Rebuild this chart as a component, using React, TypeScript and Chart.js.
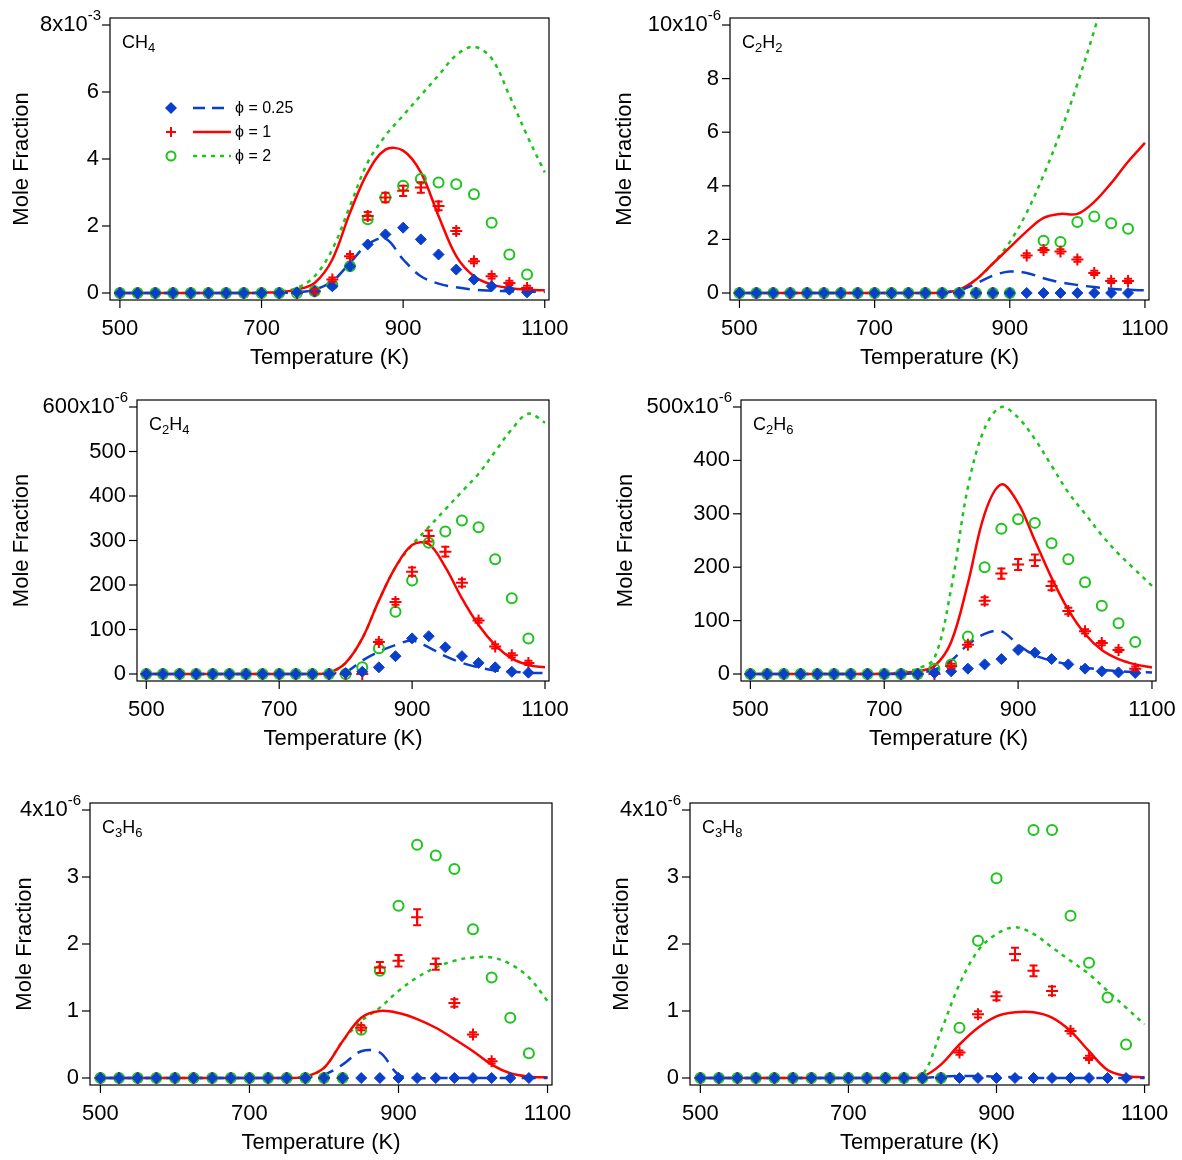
import React, { useEffect, useRef } from 'react';
import { Chart, registerables } from 'chart.js';

Chart.register(...registerables);

// experiment temperatures (K) and model temperatures (K)
const EXP_T = [500, 525, 550, 575, 600, 625, 650, 675, 700, 725, 750, 775, 800, 825, 850, 875, 900, 925, 950, 975, 1000, 1025, 1050, 1075];
const MODEL_T = [500, 525, 550, 575, 600, 625, 650, 675, 700, 725, 750, 775, 800, 825, 850, 875, 900, 925, 950, 975, 1000, 1025, 1050, 1075, 1100];
const X_TICKS = [500, 700, 900, 1100];

// CH4 (x1e-3)
const CH4_LEAN = [0, 0, 0, 0, 0, 0, 0, 0, 0, 0, 0.02, 0.05, 0.2, 0.8, 1.45, 1.75, 1.95, 1.6, 1.15, 0.7, 0.4, 0.2, 0.1, 0.02];
const CH4_STOICH = [0, 0, 0, 0, 0, 0, 0, 0, 0, 0, 0, 0.05, 0.4, 1.1, 2.3, 2.85, 3.05, 3.15, 2.6, 1.85, 0.95, 0.5, 0.3, 0.15];
const CH4_RICH = [0, 0, 0, 0, 0, 0, 0, 0, 0, 0, 0, 0.05, 0.25, 0.8, 2.2, 2.85, 3.2, 3.4, 3.3, 3.25, 2.95, 2.1, 1.15, 0.55];
const CH4_LEAN_M = [0, 0, 0, 0, 0, 0, 0, 0, 0, 0, 0.02, 0.1, 0.35, 0.9, 1.45, 1.62, 1.0, 0.5, 0.28, 0.17, 0.1, 0.07, 0.05, 0.04, 0.03];
const CH4_STOICH_M = [0, 0, 0, 0, 0, 0, 0, 0, 0.01, 0.03, 0.1, 0.3, 1.0, 2.4, 3.6, 4.28, 4.25, 3.6, 2.3, 1.1, 0.5, 0.25, 0.15, 0.1, 0.08];
const CH4_RICH_M = [0, 0, 0, 0, 0, 0, 0, 0, 0.01, 0.04, 0.15, 0.5, 1.3, 2.6, 3.9, 4.7, 5.3, 5.9, 6.5, 7.1, 7.35, 7.0, 5.9, 4.7, 3.6];

// C2H2 (x1e-6)
const C2H2_LEAN = [0, 0, 0, 0, 0, 0, 0, 0, 0, 0, 0, 0, 0, 0, 0, 0, 0, 0, 0, 0, 0, 0, 0, 0];
const C2H2_STOICH = [0, 0, 0, 0, 0, 0, 0, 0, 0, 0, 0, 0, 0, 0, 0, 0, null, 1.4, 1.6, 1.55, 1.25, 0.75, 0.45, 0.45];
const C2H2_RICH = [0, 0, 0, 0, 0, 0, 0, 0, 0, 0, 0, 0, 0, 0, 0, 0, 0, null, 1.95, 1.9, 2.65, 2.85, 2.6, 2.4];
const C2H2_LEAN_M = [0, 0, 0, 0, 0, 0, 0, 0, 0, 0, 0, 0, 0.02, 0.1, 0.35, 0.65, 0.8, 0.75, 0.55, 0.4, 0.3, 0.22, 0.16, 0.12, 0.1];
const C2H2_STOICH_M = [0, 0, 0, 0, 0, 0, 0, 0, 0, 0, 0, 0, 0.02, 0.12, 0.5, 1.1, 1.7, 2.3, 2.8, 2.95, 2.95, 3.4, 4.1, 4.9, 5.6];
const C2H2_RICH_M = [0, 0, 0, 0, 0, 0, 0, 0, 0, 0, 0, 0, 0.02, 0.12, 0.5, 1.1, 1.9, 3.0, 4.4, 6.0, 7.8, 9.8, 12, 14, 16];

// C2H4 (x1e-6)
const C2H4_LEAN = [0, 0, 0, 0, 0, 0, 0, 0, 0, 0, 0, 0, 2, 5, 15, 40, 80, 85, 60, 40, 25, 15, 5, 3];
const C2H4_STOICH = [0, 0, 0, 0, 0, 0, 0, 0, 0, 0, 0, 0, 0, 0, 72, 162, 230, 310, 275, 205, 120, 62, 42, 25];
const C2H4_RICH = [0, 0, 0, 0, 0, 0, 0, 0, 0, 0, 0, 0, 0, 15, 58, 140, 210, 295, 320, 345, 330, 258, 170, 80];
const C2H4_LEAN_M = [0, 0, 0, 0, 0, 0, 0, 0, 0, 0, 0, 1, 5, 30, 50, 65, 75, 60, 40, 25, 15, 8, 5, 3, 2];
const C2H4_STOICH_M = [0, 0, 0, 0, 0, 0, 0, 0, 0, 0, 0, 3, 25, 80, 165, 240, 290, 292, 240, 170, 110, 65, 35, 20, 15];
const C2H4_RICH_M = [0, 0, 0, 0, 0, 0, 0, 0, 0, 0, 0, 3, 25, 80, 165, 240, 290, 330, 370, 410, 450, 500, 550, 585, 565];

// C2H6 (x1e-6)
const C2H6_LEAN = [0, 0, 0, 0, 0, 0, 0, 0, 0, 0, 0, 2, 5, 10, 18, 28, 45, 40, 28, 18, 10, 5, 3, 2];
const C2H6_STOICH = [0, 0, 0, 0, 0, 0, 0, 0, 0, 0, 0, 0, 15, 55, 137, 188, 205, 213, 165, 118, 80, 58, 45, 10];
const C2H6_RICH = [0, 0, 0, 0, 0, 0, 0, 0, 0, 0, 0, 10, 18, 70, 200, 272, 290, 283, 245, 215, 172, 128, 95, 60];
const C2H6_LEAN_M = [0, 0, 0, 0, 0, 0, 0, 0, 0, 0, 2, 8, 25, 55, 75, 80, 55, 35, 25, 18, 12, 8, 5, 4, 3];
const C2H6_STOICH_M = [0, 0, 0, 0, 0, 0, 0, 0, 0, 2, 5, 15, 60, 170, 300, 355, 320, 250, 180, 120, 75, 45, 28, 18, 12];
const C2H6_RICH_M = [0, 0, 0, 0, 0, 0, 0, 0, 1, 3, 10, 30, 160, 350, 460, 500, 480, 440, 390, 340, 300, 260, 225, 195, 165];

// C3H6 (x1e-6)
const C3H6_LEAN = [0, 0, 0, 0, 0, 0, 0, 0, 0, 0, 0, 0, 0, 0, 0, 0, 0, 0, 0, 0, 0, 0, 0, 0];
const C3H6_STOICH = [0, 0, 0, 0, 0, 0, 0, 0, 0, 0, 0, 0, 0, 0, 0.75, 1.65, 1.75, 2.4, 1.7, 1.12, 0.65, 0.25, null, null];
const C3H6_RICH = [0, 0, 0, 0, 0, 0, 0, 0, 0, 0, 0, 0, 0, 0, 0.72, 1.6, 2.57, 3.48, 3.32, 3.12, 2.22, 1.5, 0.9, 0.37];
const C3H6_LEAN_M = [0, 0, 0, 0, 0, 0, 0, 0, 0, 0, 0, 0.01, 0.05, 0.2, 0.4, 0.38, 0.05, 0, 0, 0, 0, 0, 0, 0, 0];
const C3H6_STOICH_M = [0, 0, 0, 0, 0, 0, 0, 0, 0, 0, 0, 0.02, 0.15, 0.55, 0.9, 1.0, 0.97, 0.88, 0.75, 0.58, 0.4, 0.2, 0.07, 0.02, 0.01];
const C3H6_RICH_M = [0, 0, 0, 0, 0, 0, 0, 0, 0, 0, 0, 0.02, 0.15, 0.55, 0.85, 1.05, 1.3, 1.5, 1.65, 1.75, 1.8, 1.8, 1.7, 1.5, 1.15];

// C3H8 (x1e-6)
const C3H8_LEAN = [0, 0, 0, 0, 0, 0, 0, 0, 0, 0, 0, 0, 0, 0, 0, 0, 0, 0, 0, 0, 0, 0, 0, 0];
const C3H8_STOICH = [0, 0, 0, 0, 0, 0, 0, 0, 0, 0, 0, 0, 0, 0, 0.38, 0.95, 1.22, 1.85, 1.6, 1.3, 0.7, 0.3, null, null];
const C3H8_RICH = [0, 0, 0, 0, 0, 0, 0, 0, 0, 0, 0, 0, 0, 0, 0.75, 2.05, 2.98, null, 3.7, 3.7, 2.42, 1.72, 1.2, 0.5];
const C3H8_LEAN_M = [0, 0, 0, 0, 0, 0, 0, 0, 0, 0, 0, 0, 0, 0.02, 0.03, 0.03, 0.02, 0.01, 0, 0, 0, 0, 0, 0, 0];
const C3H8_STOICH_M = [0, 0, 0, 0, 0, 0, 0, 0, 0, 0, 0, 0, 0.02, 0.2, 0.5, 0.75, 0.92, 0.98, 0.98, 0.9, 0.7, 0.4, 0.12, 0.03, 0.01];
const C3H8_RICH_M = [0, 0, 0, 0, 0, 0, 0, 0, 0, 0, 0, 0, 0.05, 0.7, 1.4, 1.9, 2.15, 2.25, 2.15, 1.95, 1.75, 1.55, 1.3, 1.05, 0.8];

const BLUE = '#0a3fcc';
const RED = '#ff0000';
const GREEN = '#1cc41c';
const FONT = '"Liberation Sans", Arial, sans-serif';

const PANELS = [
  { box: [110, 18, 549, 300], yMax: 8, step: 2, exp: '-3', species: [['CH', 0], ['4', 1]], yTitleX: 22, legend: true, err: 0.05,
    data: [CH4_LEAN, CH4_STOICH, CH4_RICH, CH4_LEAN_M, CH4_STOICH_M, CH4_RICH_M] },
  { box: [730, 18, 1149, 300], yMax: 10, step: 2, exp: '-6', species: [['C', 0], ['2', 1], ['H', 0], ['2', 1]], yTitleX: 625, err: 0.05,
    data: [C2H2_LEAN, C2H2_STOICH, C2H2_RICH, C2H2_LEAN_M, C2H2_STOICH_M, C2H2_RICH_M] },
  { box: [137, 400, 549, 681], yMax: 600, step: 100, exp: '-6', species: [['C', 0], ['2', 1], ['H', 0], ['4', 1]], yTitleX: 22, err: 0.04,
    data: [C2H4_LEAN, C2H4_STOICH, C2H4_RICH, C2H4_LEAN_M, C2H4_STOICH_M, C2H4_RICH_M] },
  { box: [741, 400, 1156, 681], yMax: 500, step: 100, exp: '-6', species: [['C', 0], ['2', 1], ['H', 0], ['6', 1]], yTitleX: 626, err: 0.05,
    data: [C2H6_LEAN, C2H6_STOICH, C2H6_RICH, C2H6_LEAN_M, C2H6_STOICH_M, C2H6_RICH_M] },
  { box: [90, 803, 552, 1085], yMax: 4, step: 1, exp: '-6', species: [['C', 0], ['3', 1], ['H', 0], ['6', 1]], yTitleX: 25, err: 0.05,
    data: [C3H6_LEAN, C3H6_STOICH, C3H6_RICH, C3H6_LEAN_M, C3H6_STOICH_M, C3H6_RICH_M] },
  { box: [690, 803, 1149, 1085], yMax: 4, step: 1, exp: '-6', species: [['C', 0], ['3', 1], ['H', 0], ['8', 1]], yTitleX: 622, err: 0.05,
    data: [C3H8_LEAN, C3H8_STOICH, C3H8_RICH, C3H8_LEAN_M, C3H8_STOICH_M, C3H8_RICH_M] },
];

const PAD_L = 135;
const PAD_T = 20;
const PAD_R = 30;
const PAD_B = 80;

const toPoints = (xs: number[], ys: (number | null)[]) => xs.map((x, i) => ({ x, y: ys[i] }));

const panelPlugin = {
  id: 'panel',
  afterDatasetsDraw(chart: any) {
    const cfg = chart.options.plugins.panel;
    const { ctx, scales: { x, y } } = chart;
    // error bars on stoichiometric points
    ctx.save();
    ctx.strokeStyle = RED;
    ctx.lineWidth = 2;
    cfg.data[1].forEach((v: number | null, i: number) => {
      if (v == null || v === 0) return;
      const e = Math.max(v * cfg.err, cfg.yMax * 0.008);
      const px = x.getPixelForValue(EXP_T[i]);
      const y1 = y.getPixelForValue(v - e);
      const y2 = y.getPixelForValue(v + e);
      ctx.beginPath();
      ctx.moveTo(px, y1); ctx.lineTo(px, y2);
      ctx.moveTo(px - 4, y1); ctx.lineTo(px + 4, y1);
      ctx.moveTo(px - 4, y2); ctx.lineTo(px + 4, y2);
      ctx.stroke();
    });
    ctx.restore();
  },
  afterDraw(chart: any) {
    const cfg = chart.options.plugins.panel;
    const { ctx, chartArea: a, scales: { x, y } } = chart;
    ctx.save();
    ctx.strokeStyle = '#000';
    ctx.fillStyle = '#000';
    ctx.lineWidth = 1.2;
    ctx.strokeRect(a.left, a.top, a.right - a.left, a.bottom - a.top);

    ctx.font = `22px ${FONT}`;
    ctx.textAlign = 'center';
    ctx.textBaseline = 'middle';
    X_TICKS.forEach(t => {
      const px = x.getPixelForValue(t);
      ctx.beginPath(); ctx.moveTo(px, a.bottom); ctx.lineTo(px, a.bottom + 8); ctx.stroke();
      ctx.fillText(String(t), px, a.bottom + 29);
    });
    ctx.fillText('Temperature (K)', (a.left + a.right) / 2, a.bottom + 58);

    for (let v = 0; v <= cfg.yMax; v += cfg.step) {
      const py = y.getPixelForValue(v);
      ctx.beginPath(); ctx.moveTo(a.left - 8, py); ctx.lineTo(a.left, py); ctx.stroke();
      ctx.textAlign = 'right';
      if (v === cfg.yMax) {
        ctx.font = `15px ${FONT}`;
        const sw = ctx.measureText(cfg.exp).width;
        ctx.textAlign = 'left';
        ctx.fillText(cfg.exp, a.left - 9 - sw, py - 9);
        ctx.font = `22px ${FONT}`;
        ctx.textAlign = 'right';
        ctx.fillText(`${v}x10`, a.left - 9 - sw, py);
      } else {
        ctx.fillText(String(v), a.left - 11, py);
      }
    }
    ctx.save();
    ctx.translate(cfg.yTitleX - (cfg.box[0] - PAD_L), (a.top + a.bottom) / 2);
    ctx.rotate(-Math.PI / 2);
    ctx.textAlign = 'center';
    ctx.fillText('Mole Fraction', 0, 0);
    ctx.restore();

    // species label
    let sx = a.left + 12;
    const sy = a.top + 25;
    ctx.textAlign = 'left';
    cfg.species.forEach(([txt, sub]: [string, number]) => {
      ctx.font = sub ? `13px ${FONT}` : `18px ${FONT}`;
      ctx.fillText(txt, sx, sy + (sub ? 5 : 0));
      sx += ctx.measureText(txt).width;
    });

    if (cfg.legend) {
      const rows = [
        { label: 'ϕ = 0.25', color: BLUE, dash: [12, 7], mark: 'diamond' },
        { label: 'ϕ = 1', color: RED, dash: [], mark: 'plus' },
        { label: 'ϕ = 2', color: GREEN, dash: [4, 5], mark: 'circle' },
      ];
      const ox = a.left + 61;
      rows.forEach((r, i) => {
        const ly = a.top + 90 + i * 24;
        ctx.strokeStyle = r.color;
        ctx.fillStyle = r.color;
        ctx.lineWidth = 2;
        ctx.setLineDash([]);
        if (r.mark === 'diamond') {
          ctx.beginPath();
          ctx.moveTo(ox, ly - 6); ctx.lineTo(ox + 6, ly); ctx.lineTo(ox, ly + 6); ctx.lineTo(ox - 6, ly);
          ctx.closePath(); ctx.fill();
        } else if (r.mark === 'plus') {
          ctx.beginPath();
          ctx.moveTo(ox - 5, ly); ctx.lineTo(ox + 5, ly);
          ctx.moveTo(ox, ly - 5); ctx.lineTo(ox, ly + 5);
          ctx.stroke();
        } else {
          ctx.beginPath(); ctx.arc(ox, ly, 4.5, 0, Math.PI * 2); ctx.stroke();
        }
        ctx.lineWidth = 2.5;
        ctx.setLineDash(r.dash);
        ctx.beginPath(); ctx.moveTo(ox + 22, ly); ctx.lineTo(ox + 60, ly); ctx.stroke();
        ctx.setLineDash([]);
        ctx.fillStyle = '#000';
        ctx.font = `16px ${FONT}`;
        ctx.fillText(r.label, ox + 64, ly + 1);
      });
    }
    ctx.restore();
  },
};

const Panel = ({ cfg }: { cfg: any }) => {
  const canvasRef = useRef<HTMLCanvasElement>(null);
  const [bl, bt, br, bb] = cfg.box;
  const width = br - bl + PAD_L + PAD_R;
  const height = bb - bt + PAD_T + PAD_B;

  useEffect(() => {
    const pad = (cfg.yMax * 7) / (bb - bt - 14);
    const [lean, stoich, rich, leanM, stoichM, richM] = cfg.data;
    const line = (d: number[], color: string, dash: number[]) => ({
      type: 'line', data: toPoints(MODEL_T, d), borderColor: color, borderWidth: 2.5, borderDash: dash,
      pointRadius: 0, tension: 0.35, fill: false,
    });
    const chart = new Chart(canvasRef.current!, {
      type: 'scatter',
      data: {
        datasets: [
          { data: toPoints(EXP_T, lean), pointStyle: 'rectRot', pointRadius: 5.5, backgroundColor: BLUE, borderColor: BLUE, borderWidth: 1 },
          { data: toPoints(EXP_T, stoich), pointStyle: 'cross', pointRadius: 6, borderColor: RED, borderWidth: 2 },
          { data: toPoints(EXP_T, rich), pointStyle: 'circle', pointRadius: 5, backgroundColor: 'rgba(0,0,0,0)', borderColor: GREEN, borderWidth: 2 },
          line(leanM, BLUE, [14, 8]),
          line(stoichM, RED, []),
          line(richM, GREEN, [4, 5]),
        ] as any,
      },
      options: {
        animation: false,
        responsive: false,
        layout: { padding: { left: 0, top: PAD_T, right: PAD_R, bottom: 0 } },
        scales: {
          x: {
            type: 'linear', min: 486, max: 1106,
            grid: { display: false }, border: { display: false }, ticks: { display: false },
            afterFit: (s: any) => { s.height = PAD_B; },
          },
          y: {
            type: 'linear', min: -pad, max: cfg.yMax + pad,
            grid: { display: false }, border: { display: false }, ticks: { display: false },
            afterFit: (s: any) => { s.width = PAD_L; },
          },
        },
        plugins: { legend: { display: false }, tooltip: { enabled: false }, panel: cfg } as any,
      },
      plugins: [panelPlugin],
    });
    return () => chart.destroy();
  }, [cfg]);

  return (
    <div style={{ position: 'absolute', left: bl - PAD_L, top: bt - PAD_T, width, height }}>
      <canvas ref={canvasRef} width={width} height={height} style={{ width, height }} />
    </div>
  );
};

export default function App() {
  return (
    <div style={{ position: 'absolute', left: 0, top: 0, width: 1182, height: 1160, background: '#fff' }}>
      {PANELS.map((p, i) => <Panel key={i} cfg={p} />)}
    </div>
  );
}
